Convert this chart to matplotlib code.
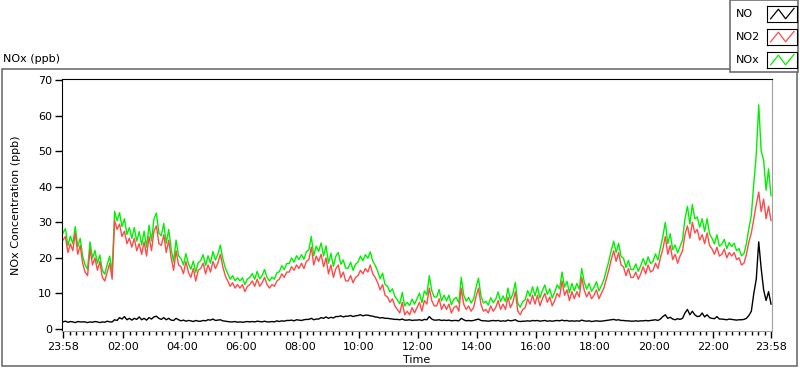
import numpy as np
import matplotlib.pyplot as plt
from matplotlib.patches import Rectangle
from matplotlib.lines import Line2D

plt.rcParams['font.family'] = 'DejaVu Sans'
plt.rcParams['font.size'] = 8

# sample times, minutes after 23:58 (5 min steps over 24 h)
minutes = np.arange(0, 1445, 5)

no2 = [
    25.0, 26.0, 21.5, 24.0, 22.0, 27.0, 21.0, 23.5, 18.5, 16.0, 15.0, 22.5,
    18.0, 20.0, 16.5, 19.0, 14.5, 13.5, 16.0, 18.5, 14.0, 30.5, 28.0, 29.5,
    26.0, 27.5, 24.0, 25.5, 23.0, 25.5, 22.0, 24.0, 21.0, 24.5, 20.5, 26.0,
    22.0, 27.5, 29.0, 24.0, 23.5, 26.5, 21.5, 25.0, 20.0, 16.5, 22.0, 18.0,
    17.5, 15.5, 19.0, 16.0, 14.5, 17.0, 13.5, 16.5, 17.0, 18.5, 15.5, 18.0,
    16.0, 19.0, 17.0, 18.5, 21.0, 17.5, 15.0, 13.5, 12.0, 13.0, 11.5, 12.5,
    11.5, 12.5, 10.5, 12.0, 12.5, 13.5, 12.0, 14.0, 12.0, 13.0, 14.5, 12.5,
    11.5, 12.5, 12.0, 13.5, 14.0, 15.5, 14.5, 16.0, 16.0, 17.5, 16.5, 18.0,
    17.0, 18.5, 17.0, 19.0, 19.5, 23.0, 18.0, 20.5, 19.0, 21.0, 17.5, 20.0,
    15.5, 18.0, 14.5, 17.0, 18.0, 14.5, 16.0, 13.5, 13.5, 15.0, 13.0, 14.5,
    15.0, 16.5, 15.5, 17.0, 16.0, 18.0, 15.5, 14.5, 13.0, 11.0, 12.5, 9.5,
    9.0, 7.5, 8.5, 6.5, 5.5, 4.5, 7.5, 4.0, 5.0, 4.0, 6.0, 4.5,
    6.0, 7.5, 5.0, 8.0, 7.0, 11.5, 8.0, 6.5, 6.5, 8.5, 5.5, 7.0,
    5.5, 7.0, 4.5, 6.0, 6.5, 5.0, 11.5, 7.0, 5.5, 6.5, 5.0, 6.0,
    9.0, 11.5, 7.0, 5.0, 5.5, 4.5, 6.5, 5.0, 6.0, 8.0, 5.5, 7.0,
    5.5, 9.0, 6.0, 7.5, 10.5, 5.0, 4.0, 5.5, 6.0, 8.5, 7.0, 9.5,
    7.0, 9.5, 6.5, 8.5, 10.0, 7.5, 9.0, 6.5, 8.0, 10.0, 9.0, 13.5,
    9.5, 11.0, 8.0, 10.5, 8.5, 10.5, 9.0, 14.5, 11.0, 9.0, 10.5, 8.5,
    9.5, 11.0, 8.5, 10.0, 11.5, 14.0, 16.5, 19.5, 22.0, 19.0, 21.5, 18.0,
    17.5, 15.0, 17.0, 14.5, 14.5, 16.0, 14.0, 15.5, 17.5, 15.5, 18.0, 16.0,
    16.5, 18.5, 17.0, 20.0, 22.5, 26.0, 21.0, 23.5, 19.5, 21.0, 18.5, 20.5,
    22.0, 26.5, 29.0, 25.5, 30.0, 27.0, 28.0, 25.0, 26.5, 24.0, 27.0, 23.5,
    22.5, 21.0, 23.0, 20.5, 21.0, 22.5, 20.0, 21.5, 20.5, 21.5, 19.5, 20.0,
    18.0, 18.5, 21.0, 24.5, 27.0, 31.0, 35.0, 38.5, 33.0, 36.5, 31.0, 34.5,
    30.5,
]

no = [
    2.0, 2.2, 1.9, 2.1, 2.0, 1.8, 2.1, 2.0, 2.0, 2.0, 1.8, 2.0,
    1.9, 2.1, 2.0, 1.8, 2.0, 1.9, 2.2, 2.0, 2.0, 2.6, 2.4, 3.2,
    2.8, 3.5, 2.6, 3.0, 2.5, 3.0, 2.7, 3.4, 2.6, 3.0, 2.5, 3.2,
    2.8, 3.4, 3.6, 3.0, 2.7, 3.2, 2.6, 3.0, 2.5, 2.4, 3.0, 2.6,
    2.3, 2.5, 2.2, 2.4, 2.3, 2.1, 2.4, 2.2, 2.2, 2.4, 2.3, 2.6,
    2.5, 2.8, 2.4, 2.5, 2.6, 2.3, 2.2, 2.1, 2.0, 2.0, 2.1, 1.9,
    2.0, 1.9, 2.0, 2.1, 2.0, 2.1, 2.0, 2.2, 2.1, 2.0, 2.2, 2.0,
    2.0, 2.1, 2.0, 2.3, 2.1, 2.3, 2.2, 2.4, 2.4, 2.5, 2.3, 2.6,
    2.5, 2.4, 2.6, 2.7, 2.7, 3.0, 2.6, 2.8, 2.8, 3.2, 3.0, 3.4,
    3.0, 3.3, 3.1, 3.5, 3.5, 3.7, 3.4, 3.6, 3.6, 3.8, 3.5, 3.7,
    3.8, 4.0, 3.7, 3.9, 3.9, 3.7, 3.6, 3.4, 3.3, 3.1, 3.2, 3.0,
    3.0, 2.9, 2.8, 2.7, 2.7, 2.6, 2.8, 2.5, 2.5, 2.6, 2.4, 2.5,
    2.5, 2.6, 2.4, 2.7, 2.6, 3.5, 2.8, 2.5, 2.5, 2.6, 2.4, 2.5,
    2.4, 2.5, 2.3, 2.4, 2.4, 2.3, 3.0, 2.6, 2.3, 2.4, 2.3, 2.4,
    2.6, 2.8, 2.4, 2.3, 2.3, 2.2, 2.3, 2.4, 2.3, 2.4, 2.2, 2.3,
    2.2, 2.5, 2.3, 2.4, 2.6, 2.2, 2.1, 2.2, 2.2, 2.3, 2.2, 2.4,
    2.3, 2.4, 2.2, 2.3, 2.4, 2.2, 2.3, 2.2, 2.3, 2.4, 2.3, 2.5,
    2.3, 2.4, 2.2, 2.3, 2.2, 2.3, 2.2, 2.5, 2.3, 2.2, 2.3, 2.1,
    2.2, 2.3, 2.2, 2.2, 2.3, 2.4, 2.5, 2.6, 2.7, 2.5, 2.6, 2.4,
    2.4, 2.3, 2.3, 2.2, 2.2, 2.3, 2.2, 2.3, 2.3, 2.4, 2.3, 2.4,
    2.5, 2.6, 2.4, 2.8, 3.5, 4.0, 3.0, 3.3, 2.8, 2.6, 2.9, 2.7,
    3.0, 4.5, 5.5, 4.0, 5.0, 4.0, 3.5, 3.6, 4.5, 3.4, 4.0, 3.2,
    3.0, 2.9, 3.5, 2.8, 2.8, 2.7, 2.6, 2.8, 2.7, 2.6, 2.5, 2.6,
    2.6, 2.7, 3.0, 3.8, 5.0, 10.0, 14.0, 24.5, 17.0, 11.0, 8.0, 10.5,
    7.0,
]

nox = [
    27.0, 28.2, 23.4, 26.1, 24.0, 28.8, 23.1, 25.5, 20.5, 18.0, 16.8, 24.5,
    19.9, 22.1, 18.5, 20.8, 16.5, 15.4, 18.2, 20.5, 16.0, 33.1, 30.4, 32.7,
    28.8, 31.0, 26.6, 28.5, 25.5, 28.5, 24.7, 27.4, 23.6, 27.5, 23.0, 29.2,
    24.8, 30.9, 32.6, 27.0, 26.2, 29.7, 24.1, 28.0, 22.5, 18.9, 25.0, 20.6,
    19.8, 18.0, 21.2, 18.4, 16.8, 19.1, 15.9, 18.7, 19.2, 20.9, 17.8, 20.6,
    18.5, 21.8, 19.4, 21.0, 23.6, 19.8, 17.2, 15.6, 14.0, 15.0, 13.6, 14.4,
    13.5, 14.4, 12.5, 14.1, 14.5, 15.6, 14.0, 16.2, 14.1, 15.0, 16.7, 14.5,
    13.5, 14.6, 14.0, 15.8, 16.1, 17.8, 16.7, 18.4, 18.4, 20.0, 18.8, 20.6,
    19.5, 20.9, 19.6, 21.7, 22.2, 26.0, 20.6, 23.3, 21.8, 24.2, 20.5, 23.4,
    18.5, 21.3, 17.6, 20.5, 21.5, 18.2, 19.4, 17.1, 17.1, 18.8, 16.5, 18.2,
    18.8, 20.5, 19.2, 20.9, 19.9, 21.7, 19.1, 17.9, 16.3, 14.1, 15.7, 12.5,
    12.0, 10.4, 11.3, 9.2, 8.2, 7.1, 10.3, 6.5, 7.5, 6.6, 8.4, 7.0,
    8.5, 10.1, 7.4, 10.7, 9.6, 15.0, 10.8, 9.0, 9.0, 11.1, 7.9, 9.5,
    7.9, 9.5, 6.8, 8.4, 8.9, 7.3, 14.5, 9.6, 7.8, 8.9, 7.3, 8.4,
    11.6, 14.3, 9.4, 7.3, 7.8, 6.7, 8.8, 7.4, 8.3, 10.4, 7.7, 9.3,
    7.7, 11.5, 8.3, 9.9, 13.1, 7.2, 6.1, 7.7, 8.2, 10.8, 9.2, 11.9,
    9.3, 11.9, 8.7, 10.8, 12.4, 9.7, 11.3, 8.7, 10.3, 12.4, 11.3, 16.0,
    11.8, 13.4, 10.2, 12.8, 10.7, 12.8, 11.2, 17.0, 13.3, 11.2, 12.8, 10.6,
    11.7, 13.3, 10.7, 12.2, 13.8, 16.4, 19.0, 22.1, 24.7, 21.5, 24.1, 20.4,
    19.9, 17.3, 19.3, 16.7, 16.7, 18.3, 16.2, 17.8, 19.8, 17.9, 20.3, 18.4,
    19.0, 21.1, 19.4, 22.8, 26.0, 30.0, 24.0, 26.8, 22.3, 23.6, 21.4, 23.2,
    25.0, 31.0, 34.5, 29.5, 35.0, 31.0, 31.5, 28.6, 31.0, 27.4, 31.0, 26.7,
    25.5, 23.9, 26.5, 23.3, 23.8, 25.2, 22.6, 24.3, 23.2, 24.1, 22.0, 22.6,
    20.6, 21.2, 24.0, 28.3, 32.0, 41.0, 49.0, 63.0, 50.0, 47.5, 39.0, 45.0,
    37.5,
]

tick_pos = [0, 122, 242, 362, 482, 602, 722, 842, 962, 1082, 1202, 1322, 1440]
tick_labels = ['23:58', '02:00', '04:00', '06:00', '08:00', '10:00', '12:00',
               '14:00', '16:00', '18:00', '20:00', '22:00', '23:58']
y_ticks = [0, 10, 20, 30, 40, 50, 60, 70]

series = [('NO', no, 'black'), ('NO2', no2, '#ff4a4a'), ('NOx', nox, '#00f000')]

W, H = 800, 369
fig = plt.figure(figsize=(W / 100, H / 100), dpi=100)
fig.patch.set_facecolor('white')

# outer panel frame
fig.add_artist(Rectangle((2 / W, 1 - 366 / H), 795 / W, 297 / H,
                         transform=fig.transFigure, fill=False,
                         edgecolor='#6e6e6e', linewidth=1.2, zorder=-2))
fig.text(3 / W, 1 - 59 / H, 'NOx (ppb)', ha='left', va='center', fontsize=8)

ax = fig.add_axes([62 / W, 1 - 331 / H, 710 / W, 252 / H])
for name, vals, col in [series[2], series[1], series[0]]:
    ax.plot(minutes, vals, color=col, linewidth=1.0)

ax.set_xlim(-2, 1442)
ax.set_ylim(-0.56, 70.28)
ax.set_yticks(y_ticks)
ax.set_xticks(tick_pos)
ax.set_xticklabels(tick_labels)
minor = []
for a, b in zip(tick_pos[:-1], tick_pos[1:]):
    minor += list(np.linspace(a, b, 10)[1:-1])
ax.set_xticks(minor, minor=True)
ax.tick_params(axis='y', direction='out', length=5, width=1, pad=2, labelsize=8)
ax.tick_params(axis='x', which='major', direction='out', length=5, width=1,
               pad=3, labelsize=8)
ax.tick_params(axis='x', which='minor', direction='out', length=3, width=1)
ax.spines['left'].set_color('black')
ax.spines['top'].set_color('black')
ax.spines['right'].set_color('#a0a0a0')
ax.spines['bottom'].set_color('#a0a0a0')
ax.set_ylabel('NOx Concentration (ppb)', fontsize=8, labelpad=12)
ax.set_xlabel('Time', fontsize=8, labelpad=2)

# legend panel
fig.add_artist(Rectangle((730 / W, 1 - 72 / H), 68 / W, 72 / H,
                         transform=fig.transFigure, facecolor='white',
                         edgecolor='#6e6e6e', linewidth=1.2, zorder=-1))
for i, (name, vals, col) in enumerate(series):
    yc = 14 + i * 23
    fig.text(736 / W, 1 - yc / H, name, ha='left', va='center', fontsize=8)
    lax = fig.add_axes([767 / W, 1 - (yc + 8) / H, 30 / W, 16 / H])
    lax.set_xlim(0, 1)
    lax.set_ylim(0, 1)
    lax.set_xticks([])
    lax.set_yticks([])
    for s in lax.spines.values():
        s.set_color('black')
        s.set_linewidth(0.8)
    lax.add_line(Line2D([0.12, 0.38, 0.62, 0.9], [0.2, 0.8, 0.2, 0.85],
                        color=col, linewidth=0.9))

fig.savefig('out.png', dpi=100)
